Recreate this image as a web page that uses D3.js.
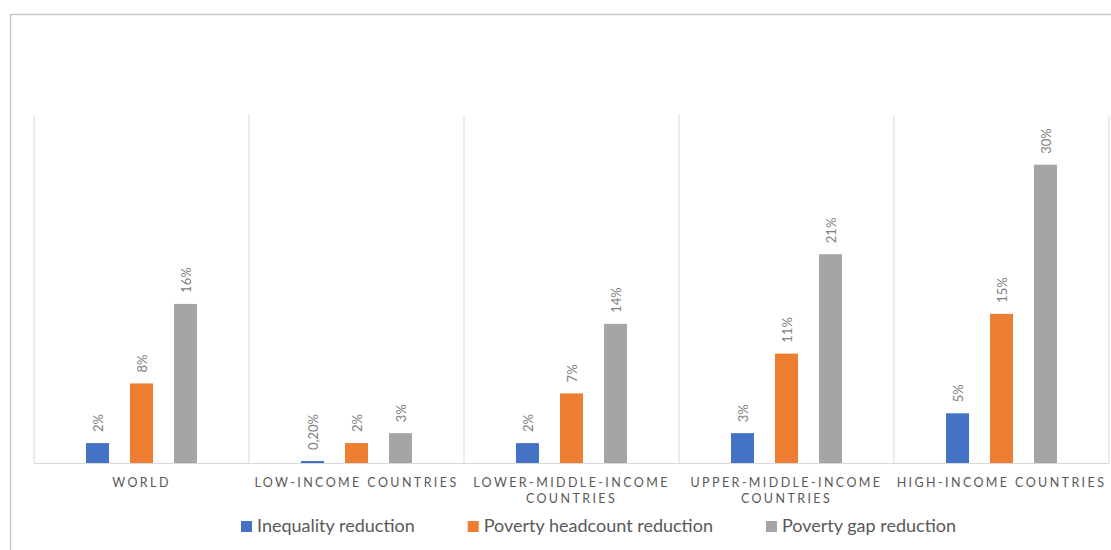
<!DOCTYPE html>
<html><head><meta charset="utf-8">
<script src="https://cdn.jsdelivr.net/npm/d3@7"></script>
<style>
html,body{margin:0;padding:0;background:#fff;}
svg{display:block;font-family:Lato, "Open Sans", sans-serif;}
</style></head>
<body>
<svg id="chart" width="1111" height="550"></svg>
<script>
const categories = ["WORLD", "LOW-INCOME COUNTRIES", "LOWER-MIDDLE-INCOME COUNTRIES", "UPPER-MIDDLE-INCOME COUNTRIES", "HIGH-INCOME COUNTRIES"];
const seriesNames = ["Inequality reduction", "Poverty headcount reduction", "Poverty gap reduction"];
const inequality = [2, 0.2, 2, 3, 5];
const headcount = [8, 2, 7, 11, 15];
const gap = [16, 3, 14, 21, 30];
const labelsInequality = ["2%", "0,20%", "2%", "3%", "5%"];
const labelsHeadcount = ["8%", "2%", "7%", "11%", "15%"];
const labelsGap = ["16%", "3%", "14%", "21%", "30%"];
const colors = ["#4472C4", "#ED7D31", "#A5A5A5"];

const seriesValues = [inequality, headcount, gap];
const seriesLabels = [labelsInequality, labelsHeadcount, labelsGap];

const svg = d3.select("#chart");

// outer frame
svg.append("rect").attr("x", 10.5).attr("y", 14.5).attr("width", 1200).attr("height", 600)
  .attr("fill", "none").attr("stroke", "#c9c9c9").attr("stroke-width", 1.5);

const x = d3.scaleBand().domain(categories).range([34, 1109]).padding(0);
const bw = x.bandwidth();
const xs = d3.scaleBand().domain(seriesNames).range([bw / 2 - 55.5, bw / 2 + 55.5]).paddingInner(21 / 44).paddingOuter(0);
const y = d3.scaleLinear().domain([0, 35]).range([463, 115]);

// separators
const seps = categories.map(c => x(c)).concat([x.range()[1]]);
svg.append("g").selectAll("line").data(seps).join("line")
  .attr("x1", d => d).attr("x2", d => d).attr("y1", y(35)).attr("y2", y(0))
  .attr("stroke", "#d9d9d9").attr("stroke-width", 1);

// bars
const data = [];
categories.forEach((c, i) => seriesNames.forEach((s, j) => data.push({c, s, j, v: seriesValues[j][i], label: seriesLabels[j][i]})));

svg.append("g").selectAll("rect").data(data).join("rect")
  .attr("x", d => x(d.c) + xs(d.s)).attr("width", xs.bandwidth())
  .attr("y", d => y(d.v)).attr("height", d => y(0) - y(d.v))
  .attr("fill", d => colors[d.j]);

// baseline
svg.append("line").attr("x1", x.range()[0]).attr("x2", x.range()[1]).attr("y1", y(0) + 0.5).attr("y2", y(0) + 0.5)
  .attr("stroke", "#d9d9d9").attr("stroke-width", 1);

// data labels
svg.append("g").selectAll("text").data(data).join("text")
  .attr("transform", d => `translate(${x(d.c) + xs(d.s) + xs.bandwidth() / 2},${y(d.v) - 11}) rotate(-90)`)
  .attr("text-anchor", "start").attr("dominant-baseline", "central")
  .attr("font-size", 13).attr("fill", "#7f7f7f")
  .text(d => d.label);

// category labels
const catG = svg.append("g");
categories.forEach(c => {
  const t = catG.append("text").attr("x", x(c) + bw / 2).attr("y", 487)
    .attr("text-anchor", "middle").attr("font-size", 12.5).attr("fill", "#595959")
    .style("letter-spacing", "2.4px");
  const words = c.split(" ");
  let line = [];
  let tspan = t.append("tspan").attr("x", x(c) + bw / 2).attr("dy", 0);
  words.forEach(w => {
    line.push(w);
    tspan.text(line.join(" "));
    if (tspan.node().getComputedTextLength() > bw && line.length > 1) {
      line.pop();
      tspan.text(line.join(" "));
      line = [w];
      tspan = t.append("tspan").attr("x", x(c) + bw / 2).attr("dy", 16).text(w);
    }
  });
});

// legend
const legend = svg.append("g");
const items = seriesNames.map((s, j) => {
  const g = legend.append("g");
  g.append("rect").attr("x", 0).attr("y", -11).attr("width", 11).attr("height", 11).attr("fill", colors[j]);
  const t = g.append("text").attr("x", 16).attr("y", 0).attr("font-size", 18).attr("fill", "#595959").text(s);
  return {g, w: 16 + t.node().getComputedTextLength()};
});
const gapW = 53;
const total = d3.sum(items, d => d.w) + gapW * (items.length - 1);
let lx = 598.5 - total / 2;
items.forEach(it => { it.g.attr("transform", `translate(${lx},532)`); lx += it.w + gapW; });
</script>
</body></html>
